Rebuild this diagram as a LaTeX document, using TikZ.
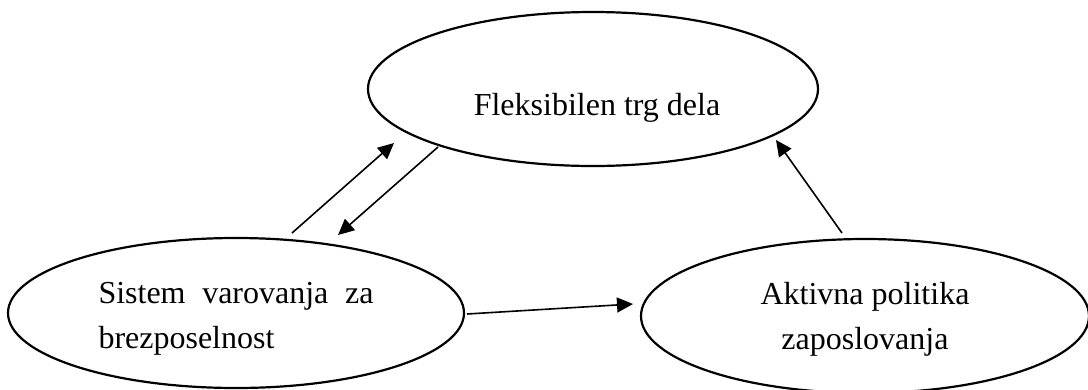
\documentclass[tikz,border=0pt]{standalone}
\usepackage{fontspec}
\setmainfont{Liberation Serif}
\usetikzlibrary{shapes.geometric,arrows.meta}
\begin{document}
\begin{tikzpicture}[x=1pt,y=-1pt,
  oval/.style={draw,ellipse,line width=2.2pt,inner sep=0pt,outer sep=0pt},
  lbl/.style={inner sep=0pt,font=\fontsize{32pt}{45pt}\selectfont},
  arr/.style={-{Triangle[length=16pt,width=15pt]},line width=1.6pt}]
\useasboundingbox (0,0) rectangle (1088,389);
\node[oval,minimum width=450pt,minimum height=154pt] (T) at (593,89) {};
\node[oval,minimum width=456pt,minimum height=150pt] (L) at (236,313) {};
\node[oval,minimum width=448pt,minimum height=154pt] (R) at (865,316) {};
\node[lbl,anchor=base] (Tt) at (597,115) {Fleksibilen trg dela};
\node[lbl,align=left] (Lt) at (236,319) {\makebox[275pt][s]{Sistem varovanja za}\\brezposelnost};
\node[lbl,align=center] (Rt) at (865,319) {Aktivna politika\\zaposlovanja};
\draw[arr] ([shift={(56,-80)}]L.center) -- ([shift={(-199,54)}]T.center);
\draw[arr] ([shift={(-155,58)}]T.center) -- ([shift={(102,-78)}]L.center);
\draw[arr] ([shift={(231,1)}]L.center) -- ([shift={(-232,-12)}]R.center);
\draw[arr] ([shift={(-23,-83)}]R.center) -- ([shift={(183,51)}]T.center);
\end{tikzpicture}
\end{document}
